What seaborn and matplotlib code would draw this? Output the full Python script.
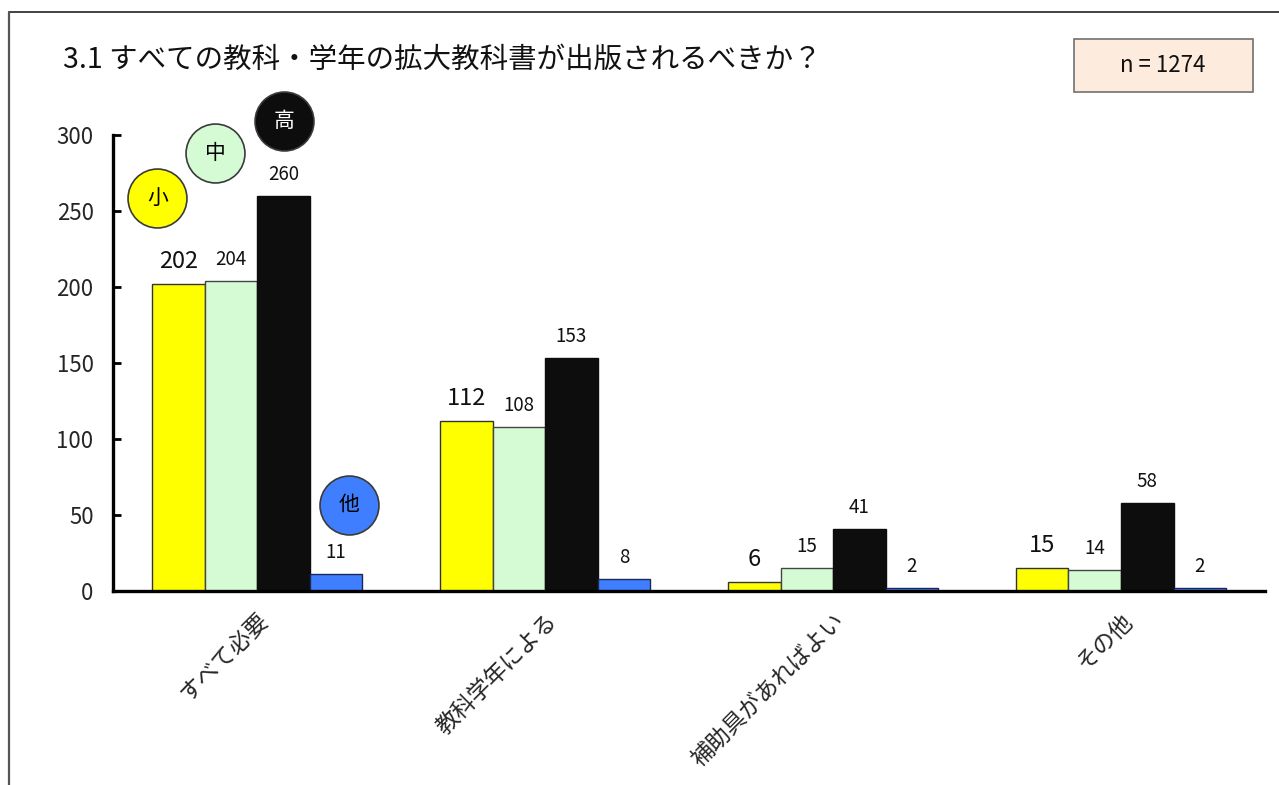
import matplotlib
matplotlib.use("Agg")
import matplotlib.pyplot as plt
from matplotlib.lines import Line2D
from matplotlib.patches import Rectangle
import pandas as pd
import seaborn as sns

# Survey answers and counts per school level
answers = ["すべて必要", "教科学年による", "補助具があればよい", "その他"]
levels = ["小", "中", "高", "他"]
elementary = [202, 112, 6, 15]
junior_high = [204, 108, 15, 14]
high_school = [260, 153, 41, 58]
other = [11, 8, 2, 2]
y_ticks = [0, 50, 100, 150, 200, 250, 300]
title_text = "3.1 すべての教科・学年の拡大教科書が出版されるべきか？"
n_text = "n = 1274"

colors = {"小": "#FFFF00", "中": "#D4FBD4", "高": "#0D0D0D", "他": "#3F7FFF"}
edges = {"小": "#333333", "中": "#444444", "高": "#0D0D0D", "他": "#1B2A55"}

sns.set_theme(style="white")
FONT = ["Noto Sans CJK JP", "DejaVu Sans"]
plt.rcParams["font.family"] = FONT

rows = []
for lv, vals in zip(levels, [elementary, junior_high, high_school, other]):
    for a, v in zip(answers, vals):
        rows.append({"回答": a, "校種": lv, "人数": v})
df = pd.DataFrame(rows)

fig = plt.figure(figsize=(12.79, 7.85), dpi=100)
ax = fig.add_axes([0.0884, 0.2471, 0.9007, 0.5809])

sns.barplot(data=df, x="回答", y="人数", hue="校種", order=answers,
            hue_order=levels, palette=colors, width=0.73, saturation=1,
            linewidth=1.0, legend=False, ax=ax)

for cont, lv in zip(ax.containers, levels):
    for bar in cont:
        bar.set_edgecolor(edges[lv])
    size = 17 if lv == "小" else 13.5
    ax.bar_label(cont, padding=8, fontsize=size, color="#111111")

ax.set_xlim(-0.5, 3.5)
ax.set_ylim(0, 300)
ax.set_yticks(y_ticks)
ax.set_yticklabels([str(t) for t in y_ticks], fontsize=16)
ax.set_xticks(range(len(answers)))
ax.set_xticklabels(answers, rotation=45, ha="right", rotation_mode="anchor",
                   fontsize=16.5)
ax.set_xticks([i - 0.5 for i in range(len(answers) + 1)], minor=True)
ax.tick_params(axis="x", which="major", length=0, pad=13)
ax.tick_params(axis="x", which="minor", direction="in", length=6, width=2,
               color="black")
ax.tick_params(axis="y", direction="in", length=6, width=2, color="black",
               pad=14, left=True)
ax.set_xlabel("")
ax.set_ylabel("")
for side in ("top", "right"):
    ax.spines[side].set_visible(False)
for side in ("left", "bottom"):
    ax.spines[side].set_color("black")
    ax.spines[side].set_linewidth(2.4)

# Circular legend badges near the first group of bars
badges = [("小", -0.346, 258.6, "black"),
          ("中", -0.145, 288.5, "black"),
          ("高", 0.094, 309.2, "white"),
          ("他", 0.319, 56.8, "black")]
for lv, bx, by, tc in badges:
    ax.scatter([bx], [by], s=1800, color=colors[lv], edgecolors="#3a3a3a",
               linewidths=1.2, clip_on=False, zorder=5)
    ax.text(bx, by, lv, ha="center", va="center", fontsize=15, color=tc,
            zorder=6, clip_on=False)

fig.text(0.0493, 0.9236, title_text, fontsize=20.5, ha="left", va="center",
         color="#111111")

fig.add_artist(Rectangle((0.8397, 0.8828), 0.14, 0.0675,
                         transform=fig.transFigure, facecolor="#FDECDD",
                         edgecolor="#707070", linewidth=1.2))
fig.text(0.9093, 0.916, n_text, fontsize=16, ha="center", va="center",
         color="#111111")

# Outer frame lines (top and left)
fig.add_artist(Line2D([0.007, 1.0], [0.9847, 0.9847], color="#222222",
                      linewidth=1.2, transform=fig.transFigure))
fig.add_artist(Line2D([0.007, 0.007], [0.0, 0.9847], color="#555555",
                      linewidth=1.6, transform=fig.transFigure))

fig.savefig("out.png", dpi=100, facecolor="white")
